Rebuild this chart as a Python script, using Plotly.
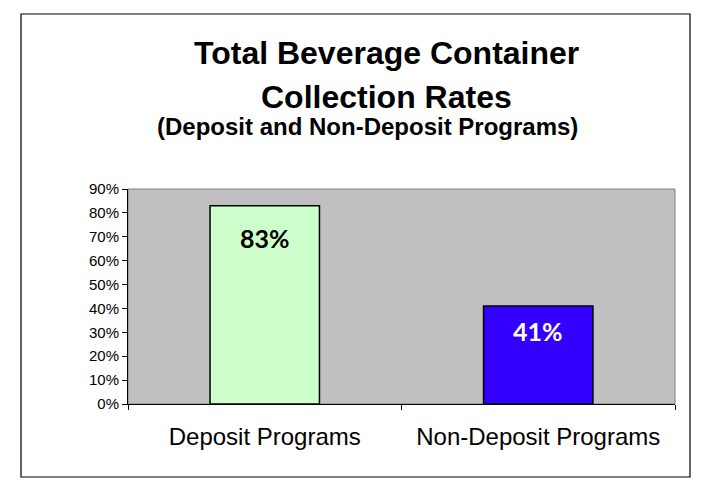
import plotly.graph_objects as go

# data
programs = ["Deposit Programs", "Non-Deposit Programs"]
collection_rates = [0.83, 0.41]
rate_labels = ["83%", "41%"]

bar_colors = ["#CCFFCC", "#3300FF"]
label_colors = ["black", "white"]
label_shift = [-32, -25]  # px below bar top

# page body adds an 8px margin, so the figure is made smaller and
# reference pixel positions are converted with that offset
OFF = 8
W, H = 714 - OFF, 492 - OFF
L, R, T, B = 128 - OFF, 39, 189 - OFF, 88
pw, ph = W - L - R, H - T - B


def px_x(x):  # reference pixel -> paper
    return (x - OFF - L) / pw


def px_y(y):
    return (H - B - (y - OFF)) / ph


fig = go.Figure()
fig.add_trace(go.Bar(
    x=programs,
    y=collection_rates,
    marker=dict(color=bar_colors, line=dict(color="black", width=1.5)),
    width=0.4,
    hoverinfo="x+y",
))

for prog, val, lab, col, dy in zip(programs, collection_rates, rate_labels, label_colors, label_shift):
    fig.add_annotation(
        x=prog, y=val, text=f"<b>{lab}</b>", showarrow=False,
        yanchor="middle", yshift=dy,
        font=dict(family="Lato", size=25, color=col),
    )

# titles
arial_bold = dict(family="Liberation Sans", color="black")
fig.add_annotation(text="<b>Total Beverage Container</b>", xref="paper", yref="paper",
                   x=px_x(386), y=px_y(53), showarrow=False, yanchor="middle",
                   font=dict(size=32, **arial_bold))
fig.add_annotation(text="<b>Collection Rates</b>", xref="paper", yref="paper",
                   x=px_x(386), y=px_y(97), showarrow=False, yanchor="middle",
                   font=dict(size=32, **arial_bold))
fig.add_annotation(text="<b>(Deposit and Non-Deposit Programs)</b>", xref="paper", yref="paper",
                   x=px_x(367), y=px_y(126), showarrow=False, yanchor="middle",
                   font=dict(size=24, **arial_bold))

# plot area frame and outer border
fig.add_shape(type="rect", xref="paper", yref="paper", x0=0, x1=1, y0=0, y1=1,
              line=dict(color="#808080", width=1), layer="below")
fig.add_shape(type="rect", xref="paper", yref="paper",
              x0=px_x(21), x1=px_x(690), y0=px_y(477), y1=px_y(14),
              line=dict(color="black", width=1.2))

fig.update_layout(
    width=W, height=H,
    margin=dict(l=L, r=R, t=T, b=B),
    paper_bgcolor="white",
    plot_bgcolor="#C0C0C0",
    showlegend=False,
    bargap=0.6,
    font=dict(family="Liberation Sans", color="black"),
)
fig.update_xaxes(
    showline=True, linecolor="black", linewidth=1,
    ticks="outside", tickson="boundaries", ticklen=5, tickcolor="black",
    tickfont=dict(size=24), ticklabelstandoff=11,
    showgrid=False,
)
fig.update_yaxes(
    range=[0, 0.9], dtick=0.1, tickformat=".0%",
    showline=True, linecolor="black", linewidth=1,
    ticks="outside", ticklen=5, tickcolor="black",
    tickfont=dict(size=15), showgrid=False, zeroline=False,
)

fig.write_html("out.html")
